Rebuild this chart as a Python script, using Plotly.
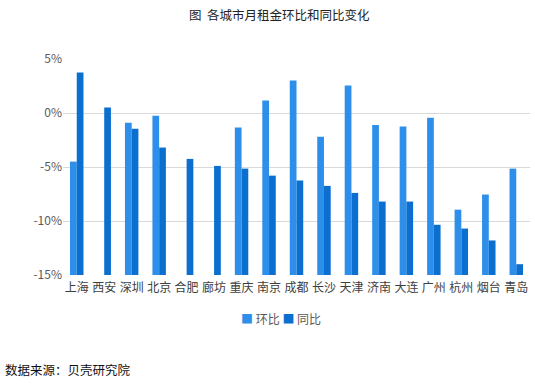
import plotly.graph_objects as go

cities = ["上海", "西安", "深圳", "北京", "合肥", "廊坊", "重庆", "南京", "成都", "长沙",
          "天津", "济南", "大连", "广州", "杭州", "烟台", "青岛"]
mom = [-4.5, None, -0.9, -0.25, None, None, -1.35, 1.15, 3.0, -2.2,
       2.55, -1.1, -1.25, -0.45, -8.95, -7.55, -5.15]
yoy = [3.75, 0.5, -1.45, -3.2, -4.25, -4.9, -5.15, -5.8, -6.25, -6.75,
       -7.4, -8.2, -8.2, -10.35, -10.7, -11.8, -14.0]
y_ticks = [5, 0, -5, -10, -15]
y_tick_text = ["5%", "0%", "-5%", "-10%", "-15%"]
axis_floor = -15

font_family = "Noto Sans CJK SC, Noto Sans, sans-serif"
c_mom = "#2E8FEA"
c_yoy = "#0B6FCF"

def lift(vals):
    return [None if v is None else v - axis_floor for v in vals]

fig = go.Figure()
fig.add_trace(go.Bar(x=cities, y=lift(mom), base=axis_floor, name="环比",
                     marker=dict(color=c_mom, line=dict(width=0)),
                     customdata=mom, hovertemplate="%{x} 环比: %{customdata}%<extra></extra>"))
fig.add_trace(go.Bar(x=cities, y=lift(yoy), base=axis_floor, name="同比",
                     marker=dict(color=c_yoy, line=dict(width=0)),
                     customdata=yoy, hovertemplate="%{x} 同比: %{customdata}%<extra></extra>"))

fig.update_layout(
    width=535, height=384,
    margin=dict(l=63, r=5, t=59, b=109),
    paper_bgcolor="white", plot_bgcolor="white",
    font=dict(family=font_family, size=12, color="#404040"),
    barmode="group", bargap=0.51, bargroupgap=0,
    title=dict(text="图  各城市月租金环比和同比变化", x=0.522, xanchor="center",
               y=1 - 16 / 384, yanchor="middle", xref="container", yref="container",
               font=dict(size=12.5, color="#222222", family=font_family)),
    showlegend=False,
    xaxis=dict(showgrid=False, showline=False, ticks="", tickangle=0, ticklabelstandoff=4,
               tickfont=dict(size=12, color="#404040"), fixedrange=True),
    yaxis=dict(range=[-15, 5], tickvals=y_ticks, ticktext=y_tick_text,
               showgrid=True, gridcolor="#D9D9D9", gridwidth=1, zeroline=False,
               showline=False, ticks="", ticklen=0, tickfont=dict(size=12, color="#595959"),
               fixedrange=True),
)

# legend (compact, as in the reference) and source note
fig.add_annotation(
    text=f'<span style="color:{c_mom}">■</span> 环比 <span style="color:{c_yoy}">■</span> 同比',
    xref="x domain", yref="y domain", x=(281 - 63) / 467, y=-(318 - 275) / 216,
    xanchor="center", yanchor="middle", showarrow=False,
    font=dict(size=12, color="#595959", family=font_family))
fig.add_annotation(
    text="数据来源：贝壳研究院", xref="x domain", yref="y domain",
    x=(3 - 63) / 467, y=-(369 - 275) / 216, xanchor="left", yanchor="middle",
    showarrow=False, font=dict(size=12.5, color="#111111", family=font_family))

fig.write_html("out.html", config={"displayModeBar": False},
               post_script="document.body.style.margin='0px';")
